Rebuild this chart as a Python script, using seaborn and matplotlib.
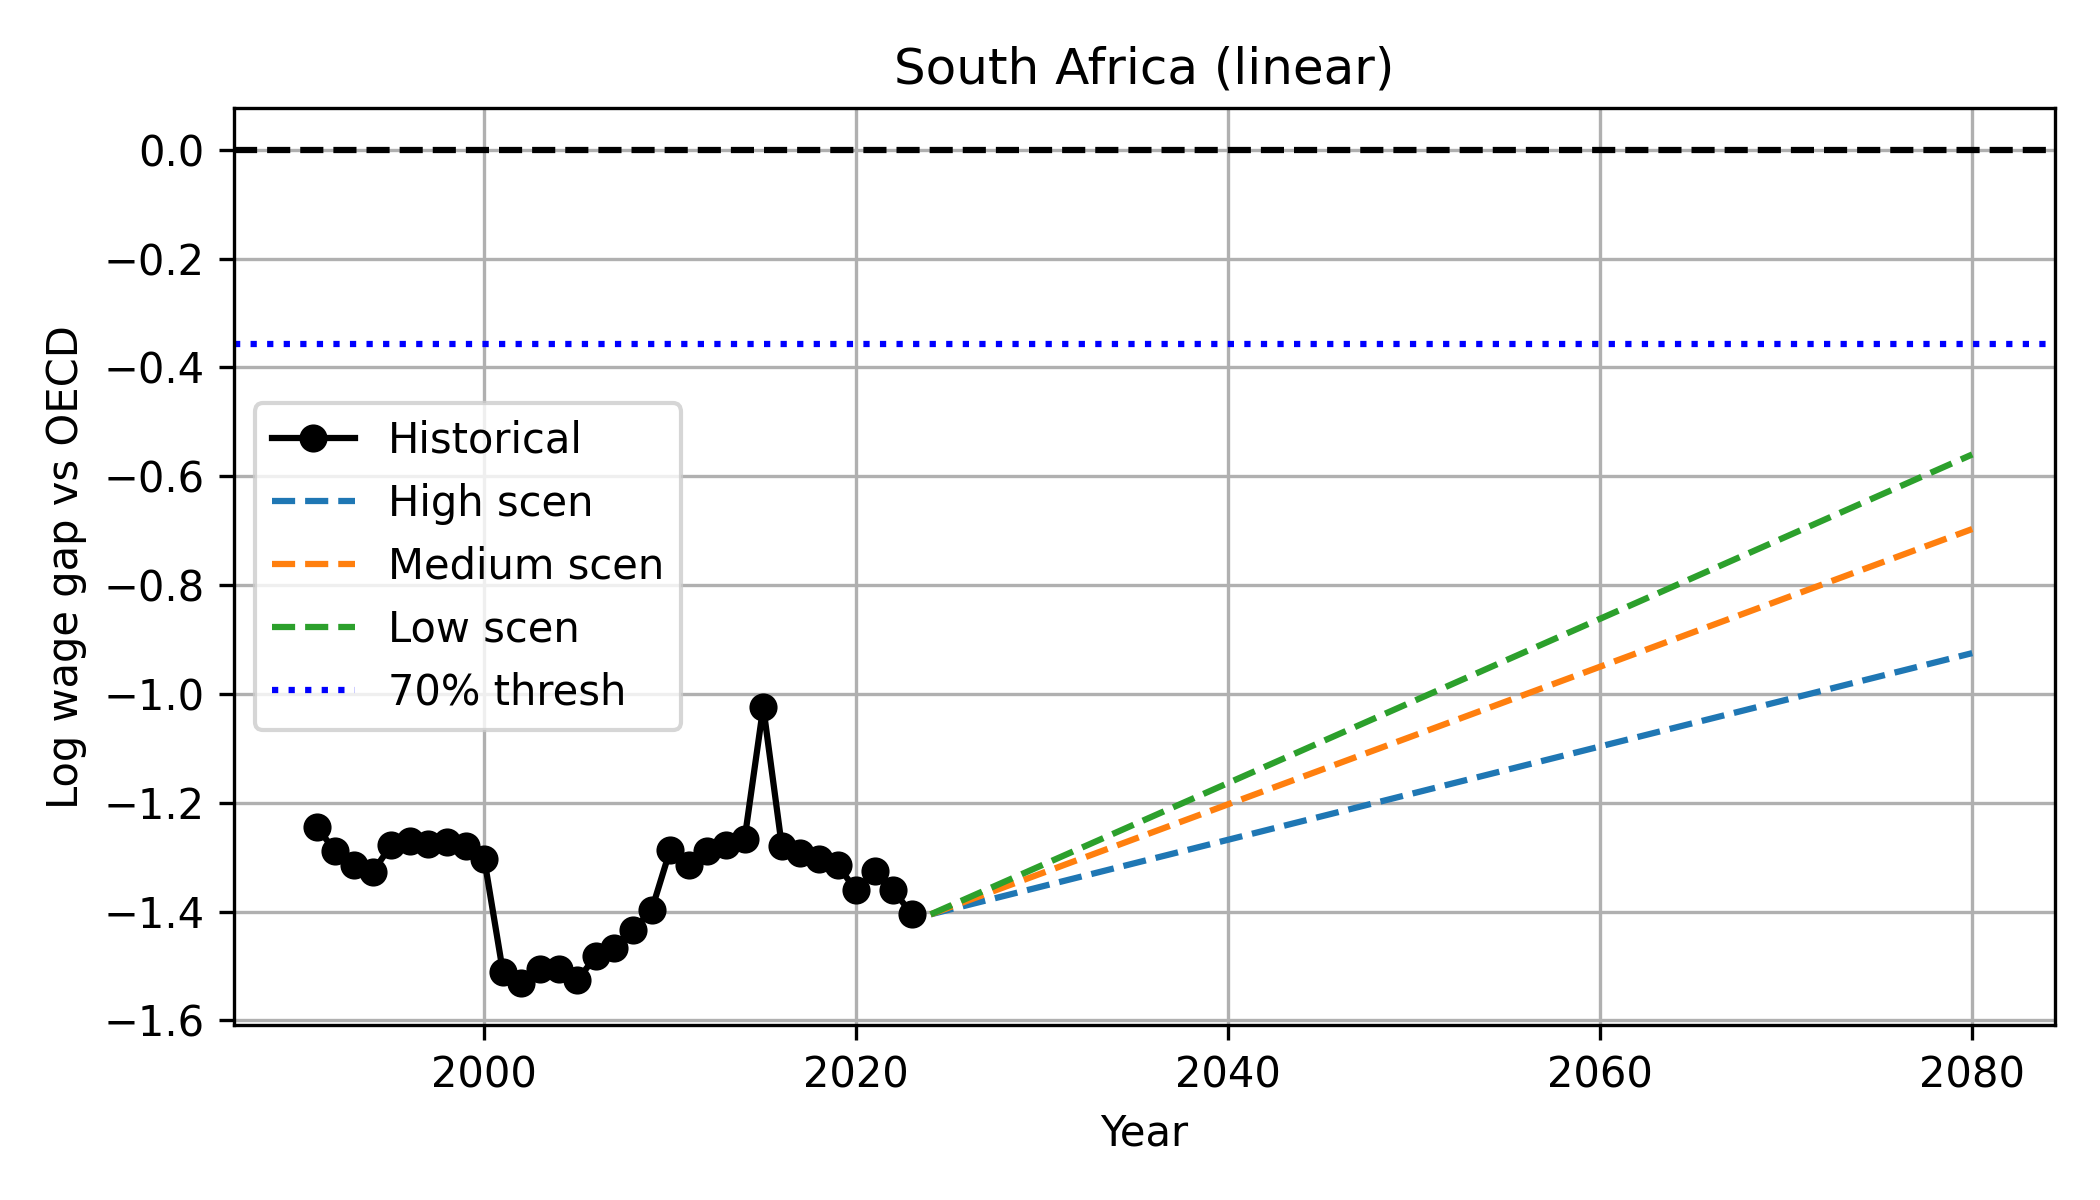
import matplotlib
matplotlib.use("Agg")
import matplotlib.pyplot as plt
import seaborn as sns
import pandas as pd

hist_years = list(range(1991, 2024))
hist_values = [-1.245, -1.289, -1.315, -1.327, -1.278, -1.270, -1.275, -1.272, -1.280, -1.303,
               -1.510, -1.532, -1.506, -1.506, -1.526, -1.482, -1.466, -1.434, -1.397, -1.286,
               -1.315, -1.289, -1.278, -1.266, -1.024, -1.280, -1.292, -1.303, -1.315, -1.361,
               -1.326, -1.361, -1.405]

proj_years = [2024, 2080]
high_scen = [-1.405, -0.925]
medium_scen = [-1.405, -0.697]
low_scen = [-1.405, -0.560]
thresh_value = -0.357
parity_value = 0.0

plt.rcParams["font.family"] = ["DejaVu Sans"]
fig, ax = plt.subplots(figsize=(7, 4), dpi=300)

ax.axhline(parity_value, color="black", linestyle="--")
sns.lineplot(x=hist_years, y=hist_values, ax=ax, color="black", marker="o",
             markersize=6, markeredgecolor="black", linewidth=1.5, label="Historical")
sns.lineplot(x=proj_years, y=high_scen, ax=ax, color="#1f77b4", linestyle="--", label="High scen")
sns.lineplot(x=proj_years, y=medium_scen, ax=ax, color="#ff7f0e", linestyle="--", label="Medium scen")
sns.lineplot(x=proj_years, y=low_scen, ax=ax, color="#2ca02c", linestyle="--", label="Low scen")
ax.axhline(thresh_value, color="blue", linestyle=":", label="70% thresh")

ax.set_title("South Africa (linear)")
ax.set_xlabel("Year")
ax.set_ylabel("Log wage gap vs OECD")
ax.grid(True)
ax.legend(loc="center left")
fig.tight_layout()
fig.savefig("out.png", dpi=300)
